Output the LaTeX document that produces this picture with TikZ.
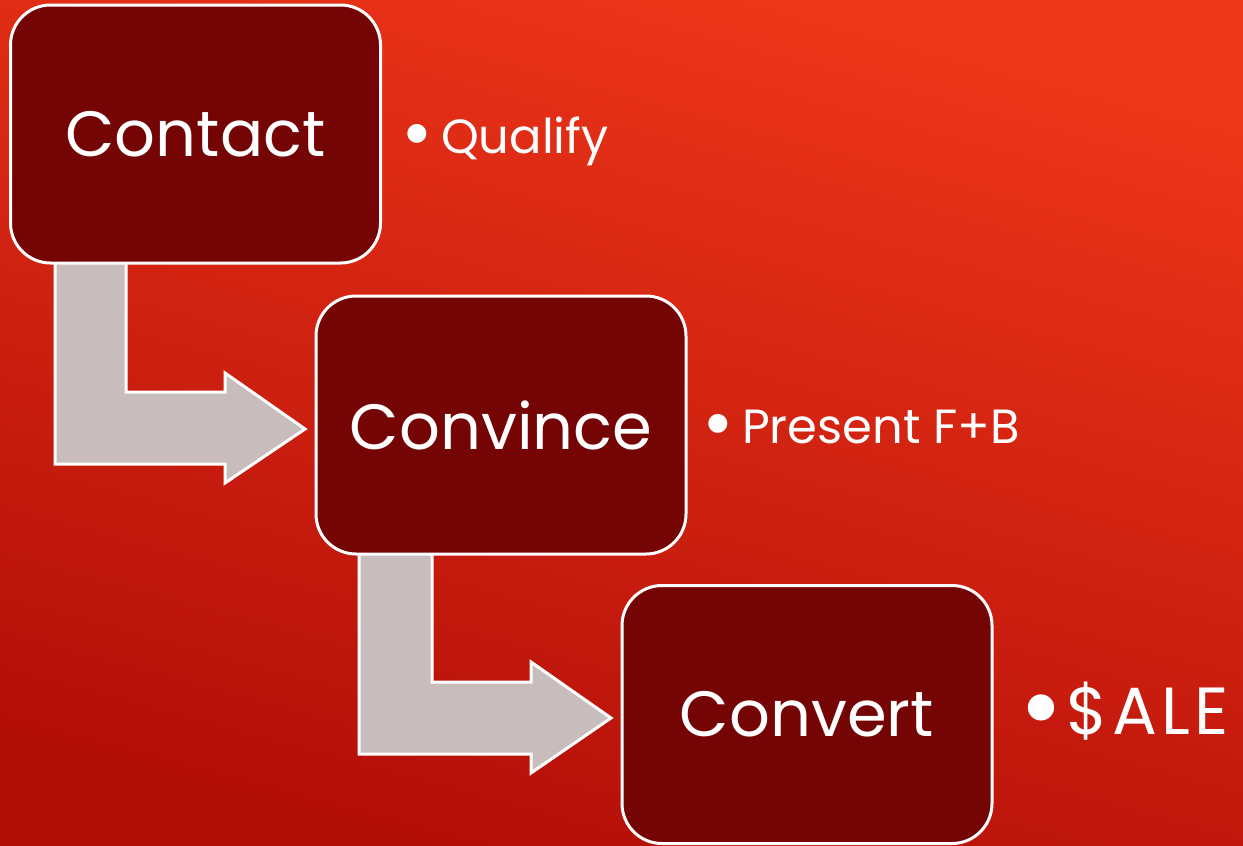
\documentclass[tikz,border=0pt]{standalone}
\usepackage{fontspec}
\setmainfont{Poppins}
\definecolor{bgtop}{RGB}{238,54,25}
\definecolor{bgbot}{RGB}{178,14,8}
\definecolor{boxred}{RGB}{117,5,5}
\definecolor{arrowgray}{RGB}{201,188,188}
\newcommand{\bigdot}{\raisebox{-0.14em}{\scalebox{1.6}{•}}}
\begin{document}
\begin{tikzpicture}[x=0.75pt,y=-0.75pt,
  box/.style={draw=white, line width=2.25pt, fill=boxred, rounded corners=30pt,
    minimum width=277.5pt, minimum height=193.5pt, inner sep=0pt, text=white,
    font=\fontsize{48}{58}\selectfont},
  bent/.style={draw=white, line width=2.25pt, fill=arrowgray, line join=miter},
  bul/.style={text=white, anchor=base west, inner sep=0pt, font=\fontsize{36}{44}\selectfont},
  bigbul/.style={bul, font=\fontsize{50}{60}\selectfont}]
\shade[top color=bgtop, bottom color=bgbot, shading angle=-15] (0,0) rectangle (1243,846);
\useasboundingbox (0,0) rectangle (1243,846);
% bent arrows (behind boxes)
\draw[bent] (55,262) -- (126,262) -- (126,392) -- (225,392) -- (225,373) -- (305,429)
  -- (225,483) -- (225,464) -- (55,464) -- cycle;
\draw[bent] (359,551) -- (432,551) -- (432,682) -- (531,682) -- (531,662) -- (611,718)
  -- (531,773) -- (531,754) -- (359,754) -- cycle;
% boxes
\node[box] (contact) at (195.5,134) {Contact};
\node[box] (convince) at (501,425) {Convince};
\node[box] (convert) at (807,714.5) {Convert};
% bullet texts
\node[bul] (qualify) at (401,153) {\bigdot\hspace{0.17em}Qualify};
\node[bul] (present) at (702,443) {\bigdot\hspace{0.17em}Present F+B};
\node[bigbul] (sale) at (1019,734) {\bigdot\hspace{0.055em}{\addfontfeature{LetterSpace=6}\$ALE}};
\end{tikzpicture}
\end{document}
